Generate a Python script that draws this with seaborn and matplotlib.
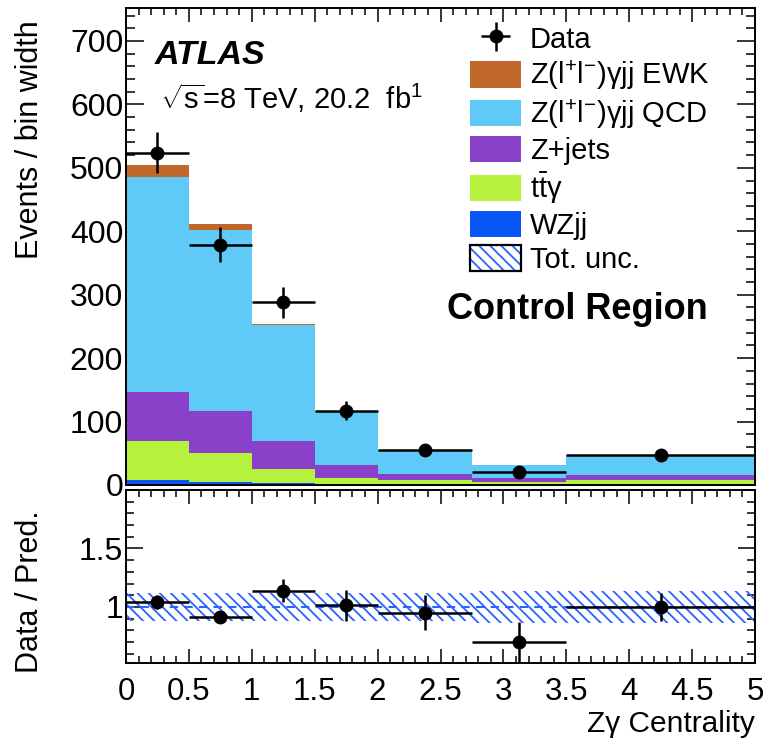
import numpy as np
import pandas as pd
import matplotlib
matplotlib.use("Agg")
import matplotlib.pyplot as plt
import seaborn as sns
from matplotlib.patches import Patch
from matplotlib.ticker import MultipleLocator, FixedLocator, FuncFormatter

# ---- binning (Zγ centrality) ----
bin_edges = [0.0, 0.5, 1.0, 1.5, 2.0, 2.75, 3.5, 5.0]

# ---- predicted yields per bin width ----
wzjj = [8, 5, 3, 2, 1.5, 1, 1.5]
ttgamma = [61.5, 45, 23, 9.6, 6.5, 4, 6.5]
zjets = [77.5, 66, 43.5, 20, 9, 6, 8]
zgjj_qcd = [338, 286.6, 182, 84.4, 37, 20, 30]
zgjj_ewk = [19, 9, 2.4, 1, 1, 0.6, 1]

# ---- observed data ----
data_vals = [524, 379, 288, 117, 55, 20, 47]
data_errs = [32, 27, 24, 15, 8, 5, 5.5]

# ---- ratio panel ----
ratio_vals = [1.04, 0.917, 1.14, 1.013, 0.95, 0.70, 1.00]
ratio_errs = [0.06, 0.05, 0.095, 0.13, 0.15, 0.17, 0.12]
tot_unc = [0.12, 0.12, 0.12, 0.12, 0.12, 0.14, 0.14]

# top of the stack first (seaborn stacks the first hue level on top)
process_names = ["EWK", "QCD", "Z+jets", "ttgamma", "WZjj"]
process_vals = [zgjj_ewk, zgjj_qcd, zjets, ttgamma, wzjj]
process_colors = ["#c0682a", "#5fc9f8", "#8941c9", "#b6f23c", "#0a55f5"]
legend_labels = [r"Z(l$^{+}$l$^{-}$)γjj EWK", r"Z(l$^{+}$l$^{-}$)γjj QCD",
                 "Z+jets", r"$\mathrm{t\bar{t}}$γ", "WZjj"]
hatch_blue = "#2a63ff"

sns.set_style("ticks")
plt.rcParams["font.family"] = ["Liberation Sans", "DejaVu Sans"]
plt.rcParams["mathtext.fontset"] = "custom"
plt.rcParams["mathtext.rm"] = "Liberation Sans"
plt.rcParams["mathtext.it"] = "Liberation Sans:italic"
plt.rcParams["mathtext.bf"] = "Liberation Sans:bold"
plt.rcParams["hatch.linewidth"] = 1.3
plt.rcParams["axes.linewidth"] = 1.4
for key in ["text.color", "axes.labelcolor", "xtick.color", "ytick.color",
            "axes.edgecolor"]:
    plt.rcParams[key] = "black"

edges = np.array(bin_edges)
centers = 0.5 * (edges[:-1] + edges[1:])
halfw = 0.5 * np.diff(edges)

W, H = 763, 739
fig = plt.figure(figsize=(W / 100, H / 100), dpi=100)
ax_top = fig.add_axes([126 / W, 1 - 485 / H, 629 / W, 477 / H])
ax_bot = fig.add_axes([126 / W, 1 - 663 / H, 629 / W, 173 / H])

# ---- stacked prediction ----
rows = []
for name, vals in zip(process_names, process_vals):
    for c, v in zip(centers, vals):
        rows.append({"x": c, "w": v, "process": name})
df = pd.DataFrame(rows)
sns.histplot(data=df, x="x", weights="w", hue="process", hue_order=process_names,
             bins=bin_edges, multiple="stack", element="step", fill=True,
             palette=dict(zip(process_names, process_colors)), alpha=1,
             linewidth=0, legend=False, ax=ax_top)

# ---- data points ----
data_handle = ax_top.errorbar(centers, data_vals, xerr=halfw, yerr=data_errs,
                              fmt="o", color="black", ms=9, elinewidth=1.8,
                              capsize=0, zorder=5)

ax_top.set_xlim(0, 5)
ax_top.set_ylim(0, 752)
ax_top.set_xlabel("")
ax_top.set_ylabel("")
ax_top.yaxis.set_major_locator(MultipleLocator(100))
ax_top.yaxis.set_minor_locator(MultipleLocator(20))
ax_top.xaxis.set_major_locator(MultipleLocator(0.5))
ax_top.xaxis.set_minor_locator(MultipleLocator(0.1))
ax_top.tick_params(which="both", direction="in", top=True, right=True,
                   labelbottom=False, width=1.1, labelsize=23, pad=2)
ax_top.tick_params(axis="y", which="major", length=13)
ax_top.tick_params(axis="y", which="minor", length=6.5)
ax_top.tick_params(axis="x", which="major", length=10)
ax_top.tick_params(axis="x", which="minor", length=5)

# ---- legend ----
handles = [data_handle]
for col in process_colors:
    handles.append(Patch(facecolor=col, edgecolor="none"))
unc_handle = (Patch(facecolor="white", edgecolor=hatch_blue, hatch="\\\\\\", lw=0),
              Patch(facecolor="none", edgecolor="black", lw=1.6))
handles.append(unc_handle)
labels = ["Data"] + legend_labels + ["Tot. unc."]
ax_top.legend(handles, labels, loc="upper left", bbox_to_anchor=(0.547, 0.965),
              frameon=False, fontsize=21, borderpad=0, borderaxespad=0,
              handlelength=1.75, handleheight=1.0, handletextpad=0.3,
              labelspacing=0.17)

fig.text(155 / W, 1 - 55 / H, "ATLAS", fontsize=24.5, fontweight="bold",
         fontstyle="italic", va="center", ha="left")
fig.text(160 / W, 1 - 98 / H, r"$\sqrt{\mathrm{s}}$=8 TeV, 20.2  fb$^{1}$",
         fontsize=21, va="center", ha="left")
fig.text(447 / W, 1 - 310 / H, "Control Region", fontsize=26, fontweight="bold",
         va="center", ha="left")

# ---- ratio panel ----
lo = np.array(tot_unc)
band_lo = np.append(1 - lo, 1 - lo[-1])
band_hi = np.append(1 + lo, 1 + lo[-1])
ax_bot.fill_between(edges, band_lo, band_hi, step="post", facecolor="none",
                    edgecolor=hatch_blue, hatch="\\\\\\", linewidth=0)
ax_bot.axhline(1.0, color=hatch_blue, ls=(0, (4, 3)), lw=1.5)
ax_bot.errorbar(centers, ratio_vals, xerr=halfw, yerr=ratio_errs, fmt="o",
                color="black", ms=9, elinewidth=1.8, capsize=0, zorder=5)
ax_bot.set_xlim(0, 5)
ax_bot.set_ylim(0.52, 2.0)
ax_bot.yaxis.set_major_locator(FixedLocator([1.0, 1.5]))
ax_bot.yaxis.set_major_formatter(FuncFormatter(lambda v, p: f"{v:g}"))
ax_bot.yaxis.set_minor_locator(MultipleLocator(0.1))
ax_bot.xaxis.set_major_locator(MultipleLocator(0.5))
ax_bot.xaxis.set_minor_locator(MultipleLocator(0.1))
ax_bot.xaxis.set_major_formatter(FuncFormatter(lambda v, p: f"{v:g}"))
ax_bot.tick_params(which="both", direction="in", top=True, right=True,
                   width=1.1, labelsize=22.5)
ax_bot.tick_params(axis="y", which="major", length=12, pad=2, labelsize=23)
ax_bot.tick_params(axis="y", which="minor", length=6)
ax_bot.tick_params(axis="x", which="major", length=10, pad=10)
ax_bot.tick_params(axis="x", which="minor", length=5)

fig.text(755 / W, 1 - 724 / H, "Zγ Centrality", fontsize=21.5, ha="right", va="center")
fig.text(30 / W, 1 - 140 / H, "Events / bin width", fontsize=22, rotation=90,
         ha="center", va="center")
fig.text(30 / W, 1 - 592 / H, "Data / Pred.", fontsize=22, rotation=90,
         ha="center", va="center")

fig.savefig("out.png", dpi=100)
